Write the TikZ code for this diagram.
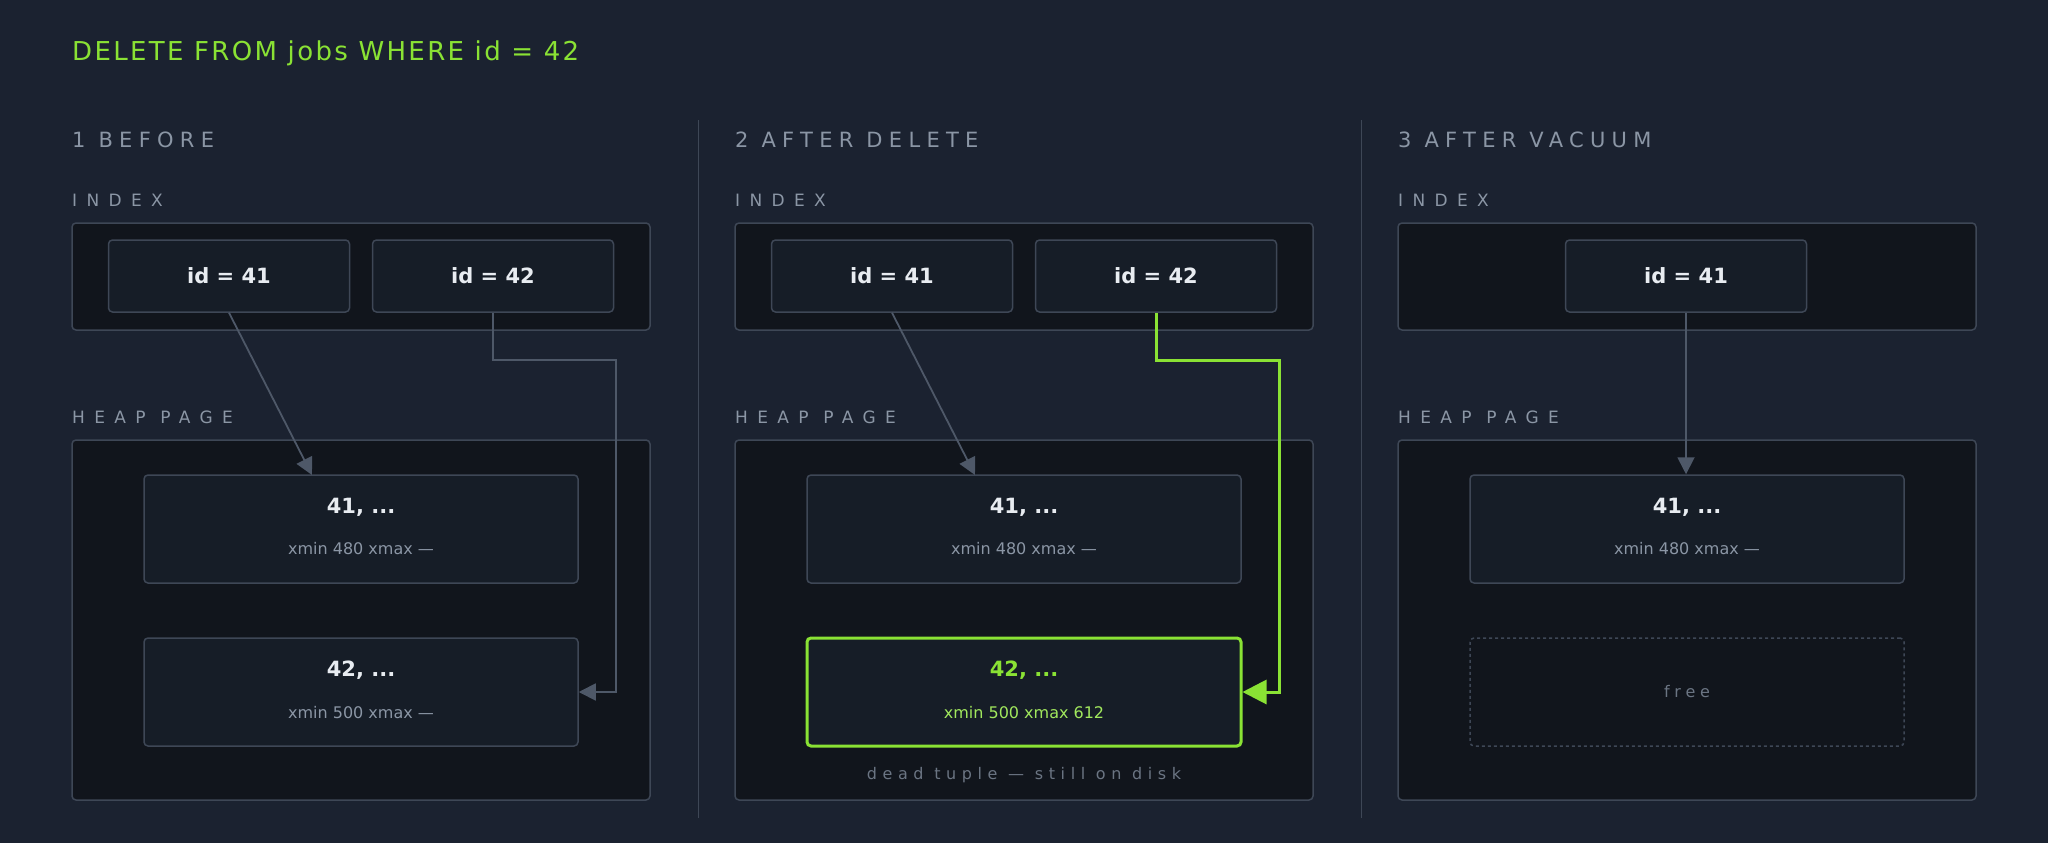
\documentclass[tikz,border=0pt]{standalone}
\usepackage{fontspec}
\setmainfont{DejaVu Sans}
\newfontfamily\spaced[LetterSpace=30]{DejaVu Sans}
\newfontfamily\spacedlabel[LetterSpace=55]{DejaVu Sans}
\newfontfamily\spacednote[LetterSpace=35]{DejaVu Sans}
\newfontfamily\spacedtitle[LetterSpace=9]{DejaVu Sans}
\usetikzlibrary{arrows.meta}
\definecolor{bgc}{HTML}{1B2230}
\definecolor{panelc}{HTML}{11151C}
\definecolor{cellc}{HTML}{161D27}
\definecolor{linec}{HTML}{3E4756}
\definecolor{arrc}{HTML}{4E5868}
\definecolor{greyc}{HTML}{8B96A5}
\definecolor{dimc}{HTML}{6B7583}
\definecolor{limec}{HTML}{8AE234}
\definecolor{whitec}{HTML}{E8ECF1}
\tikzset{
  panel/.style={draw=linec, fill=panelc, rounded corners=4pt, line width=1.5pt},
  cell/.style={draw=linec, fill=cellc, rounded corners=4pt, line width=1.5pt},
  idtext/.style={text=whitec, font=\fontsize{21}{24}\selectfont\bfseries},
  small/.style={text=greyc, font=\fontsize{16}{19}\selectfont},
  heading/.style={anchor=base west, inner sep=0pt, text=greyc, font=\spaced\fontsize{21}{24}\selectfont},
  label/.style={anchor=base west, inner sep=0pt, text=greyc, font=\spacedlabel\fontsize{17}{20}\selectfont},
  ptr/.style={draw=arrc, line width=1.8pt, -{Triangle[length=17pt,width=17pt]}},
}
\begin{document}
\begin{tikzpicture}[x=1pt,y=-1pt]
  \fill[bgc] (0,0) rectangle (2048,843);
  \useasboundingbox (0,0) rectangle (2048,843);
  % title
  \node[anchor=base west, inner sep=0pt, text=limec, font=\spacedtitle\fontsize{26}{30}\selectfont] (title) at (72,61) {DELETE FROM jobs WHERE id = 42};
  % dividers
  \draw[linec, line width=1pt] (698,120) -- (698,818);
  \draw[linec, line width=1pt] (1361,120) -- (1361,818);

  \foreach \dx/\step in {0/{1 BEFORE}, 663/{2 AFTER DELETE}, 1326/{3 AFTER VACUUM}} {
    \node[heading] at (72+\dx,147) {\step};
    \node[label] at (72+\dx,206) {INDEX};
    \node[label] at (72+\dx,423) {HEAP PAGE};
    \draw[panel] (72+\dx,223) rectangle (650+\dx,330);
    \draw[panel] (72+\dx,440) rectangle (650+\dx,800);
  }

  % 1 BEFORE
  \node[cell, minimum width=241pt, minimum height=72pt, idtext] (a41) at (229,276) {id = 41};
  \node[cell, minimum width=241pt, minimum height=72pt, idtext] (a42) at (493,276) {id = 42};
  \node[cell, minimum width=434pt, minimum height=108pt] (ta) at (361,529) {};
  \node[idtext] at (361,507) {41, ...};
  \node[small] at (361,549) {xmin 480 xmax —};
  \node[cell, minimum width=434pt, minimum height=108pt] (tb) at (361,692) {};
  \node[idtext] at (361,670) {42, ...};
  \node[small] at (361,713) {xmin 500 xmax —};
  \draw[ptr] (a41.south) -- (312,475);
  \draw[ptr] (a42.south) -- (493,360) -- (616,360) -- (616,692) -- (tb.east);

  % 2 AFTER DELETE
  \node[cell, minimum width=241pt, minimum height=72pt, idtext] (b41) at (892,276) {id = 41};
  \node[cell, minimum width=241pt, minimum height=72pt, idtext] (b42) at (1156,276) {id = 42};
  \node[cell, minimum width=434pt, minimum height=108pt] (tc) at (1024,529) {};
  \node[idtext] at (1024,507) {41, ...};
  \node[small] at (1024,549) {xmin 480 xmax —};
  \node[cell, draw=limec, line width=3pt, minimum width=434pt, minimum height=108pt] (td) at (1024,692) {};
  \node[idtext, text=limec] at (1024,670) {42, ...};
  \node[small, text=limec!80!white] at (1024,713) {xmin 500 xmax 612};
  \node[text=dimc, font=\spacednote\fontsize{16}{19}\selectfont] at (1024,775) {dead tuple — still on disk};
  \draw[ptr] (b41.south) -- (975,475);
  \draw[ptr, draw=limec, line width=3pt, -{Triangle[length=24pt,width=24pt]}] (b42.south) -- (1156,360) -- (1279,360) -- (1279,692) -- (td.east);

  % 3 AFTER VACUUM
  \node[cell, minimum width=241pt, minimum height=72pt, idtext] (c41) at (1686,276) {id = 41};
  \node[cell, minimum width=434pt, minimum height=108pt] (te) at (1687,529) {};
  \node[idtext] at (1687,507) {41, ...};
  \node[small] at (1687,549) {xmin 480 xmax —};
  \node[draw=linec, rounded corners=4pt, line width=1.5pt, dashed, minimum width=434pt, minimum height=108pt, text=dimc, font=\spaced\fontsize{16}{19}\selectfont] (tf) at (1687,692) {free};
  \draw[ptr] (c41.south) -- (te.north -| c41.south);
\end{tikzpicture}
\end{document}
